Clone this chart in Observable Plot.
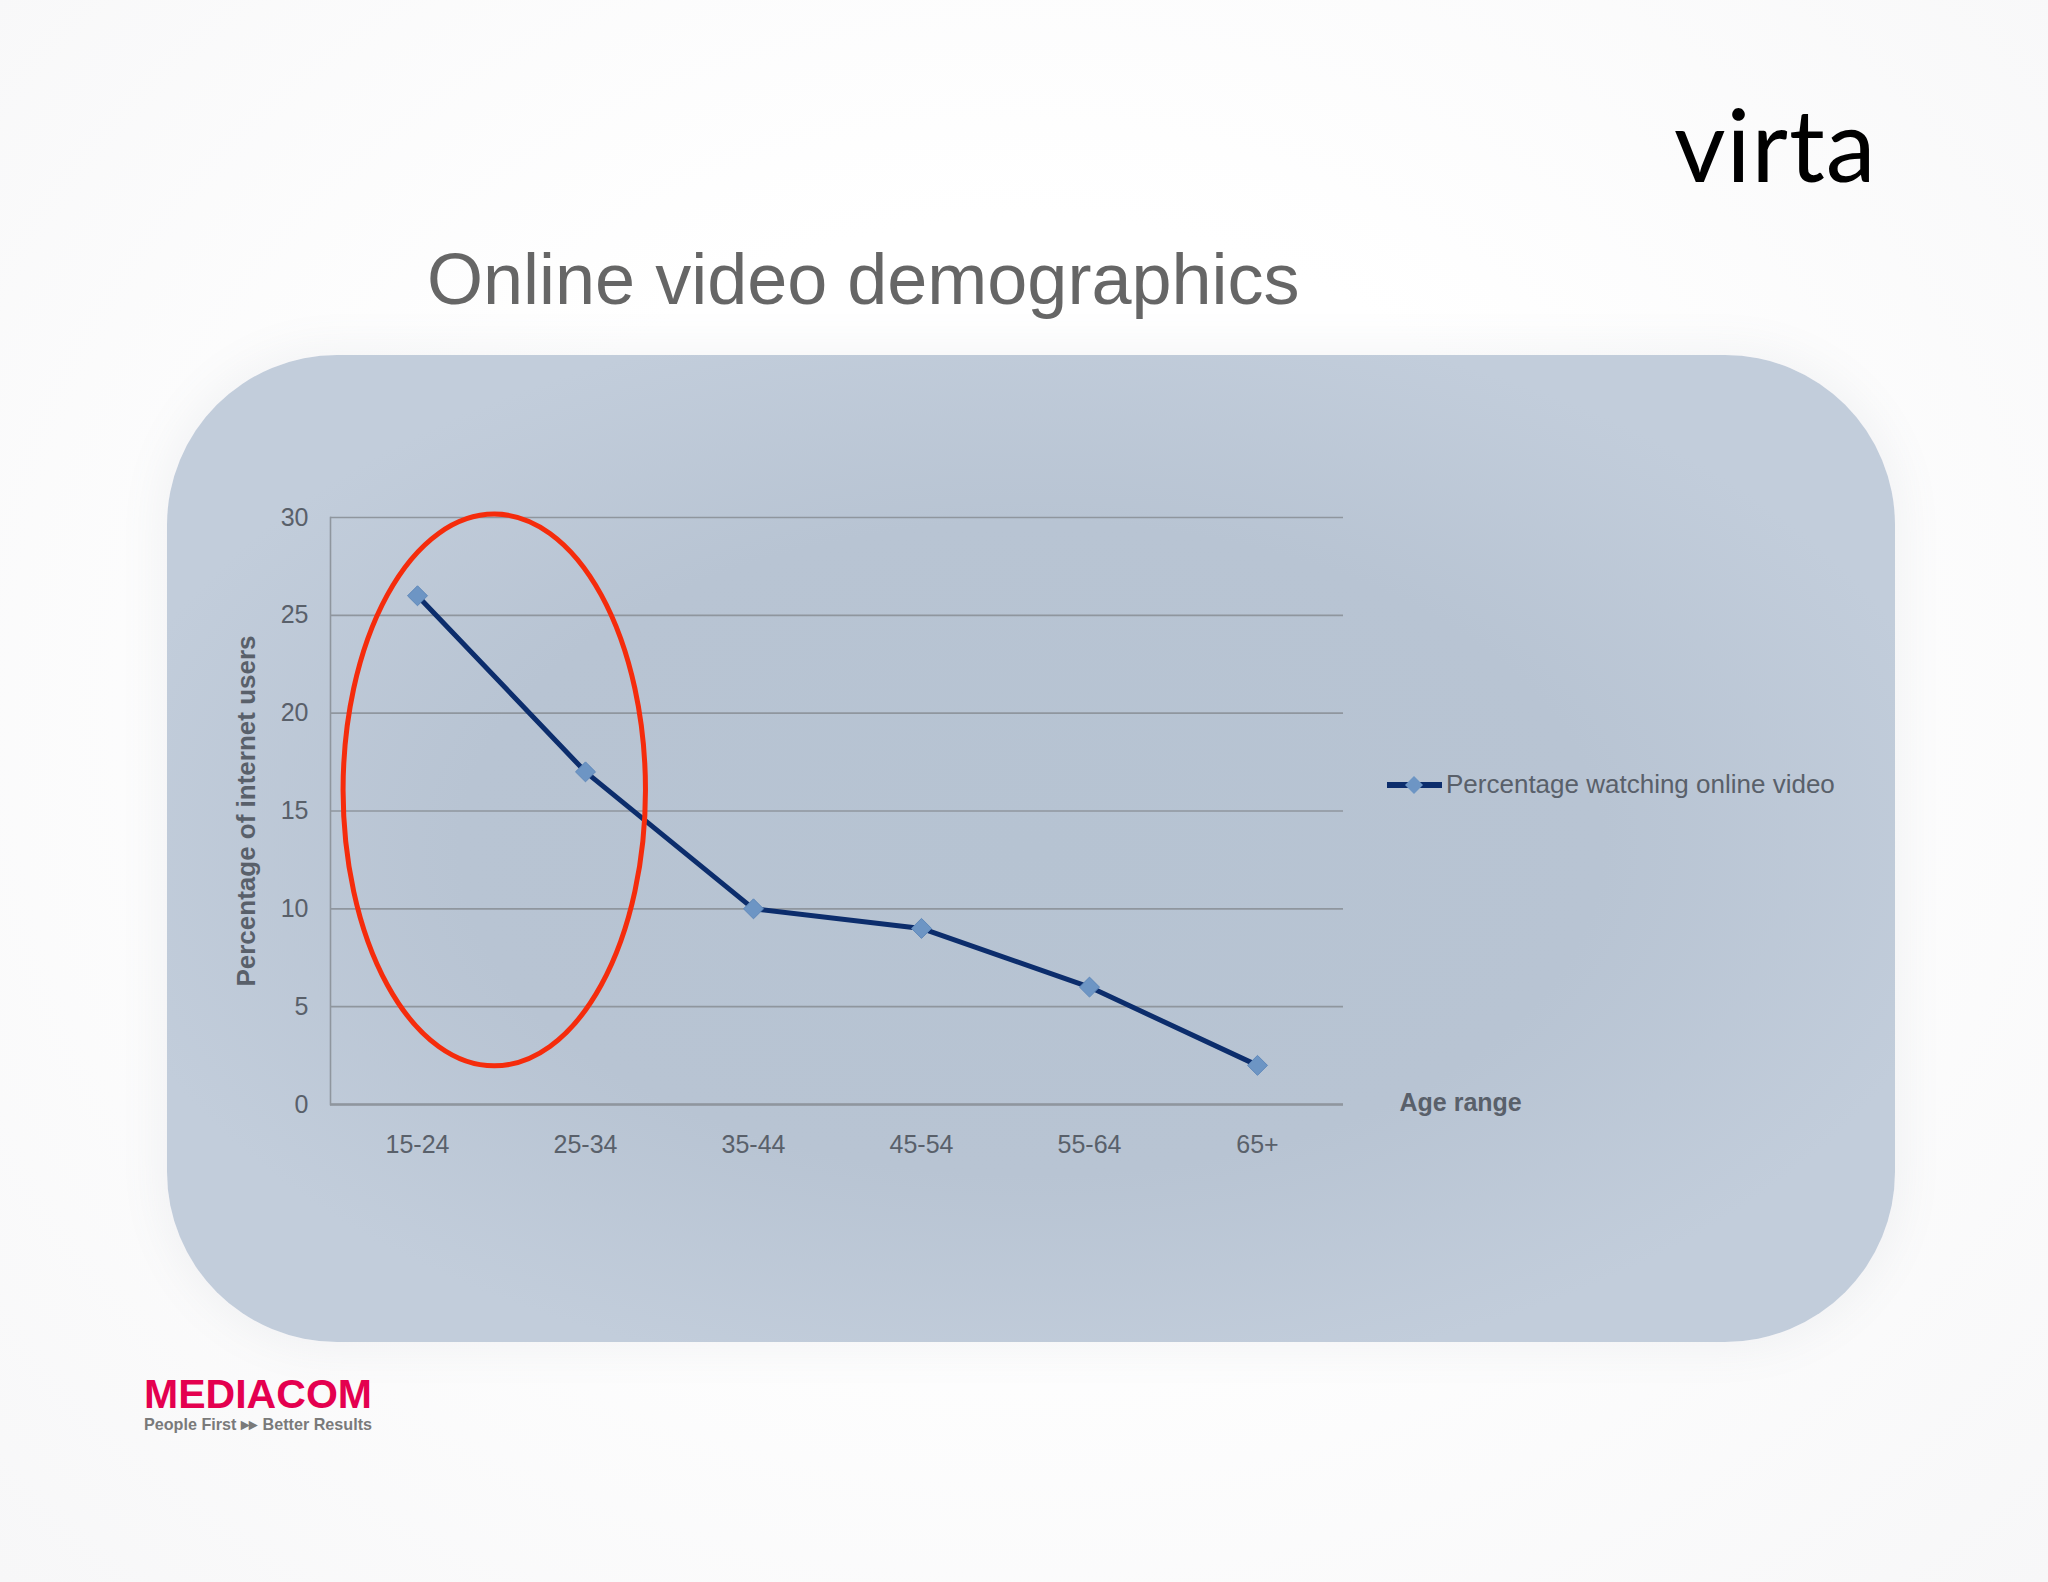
<!DOCTYPE html>
<html>
<head>
<meta charset="utf-8">
<script src="https://cdn.jsdelivr.net/npm/d3@7"></script>
<script src="https://cdn.jsdelivr.net/npm/@observablehq/plot@0.6"></script>
<style>
  html, body { margin: 0; padding: 0; }
  body { width: 2048px; height: 1582px; overflow: hidden;
    background: radial-gradient(ellipse at 50% 45%, #ffffff 40%, #f7f7f8 100%);
    font-family: "Liberation Sans", Arial, sans-serif; }
  #page { position: relative; width: 2048px; height: 1582px; }
  #panel { position: absolute; left: 167px; top: 355px; width: 1728px; height: 987px;
    border-radius: 170px;
    background: radial-gradient(ellipse 55% 55% at 50% 50%, #b6c3d2 0%, #b8c4d3 60%, #c2cddb 100%);
    box-shadow: 0 0 40px 10px rgba(120,130,145,0.07); }
  #title { position: absolute; left: 427px; top: 243px; font-size: 72px; color: #666666;
    font-family: "Liberation Sans", Arial, sans-serif; white-space: nowrap; line-height: 1; }
  #virta { position: absolute; left: 1674px; top: 93px; font-size: 100px; color: #000;
    font-family: Lato, "Open Sans", sans-serif; letter-spacing: 1px; line-height: 1; }
  #chart { position: absolute; left: 0; top: 0; }
  #legend { position: absolute; left: 1386px; top: 769px; display: flex; align-items: center;
    font-size: 26px; color: #59606a; white-space: nowrap; }
  #mediacom { position: absolute; left: 142px; top: 1372px; overflow: visible; }
</style>
</head>
<body>
<div id="page">
  <div id="panel"></div>
  <div id="title">Online video demographics</div>
  <div id="virta">virta</div>
  <div id="chart"></div>
  <div id="legend"></div>
  <svg id="mediacom" width="270" height="90">
    <text x="2" y="36" font-family="Liberation Sans, Arial, sans-serif" font-weight="bold" font-size="41" fill="#e4004f" textLength="228" lengthAdjust="spacingAndGlyphs">MEDIACOM</text>
    <text x="2" y="58" font-family="Liberation Sans, Arial, sans-serif" font-weight="bold" font-size="17" fill="#7a7a7a" textLength="228" lengthAdjust="spacingAndGlyphs">People First ▸▸ Better Results</text>
  </svg>
</div>
<script>
// ---- data ----
const ageRanges = ["15-24", "25-34", "35-44", "45-54", "55-64", "65+"];
const pctWatching = [26, 17, 10, 9, 6, 2];
const yTicks = [0, 5, 10, 15, 20, 25, 30];
const seriesName = "Percentage watching online video";
const yLabel = "Percentage of internet users";
const xLabel = "Age range";
// highlight ellipse annotation (in data units)
const highlightCats = ["15-24", "25-34"];
const highlightYCenter = 16.05;
const highlightYHalf = 14.1;
const highlightXHalfSteps = 0.9;
const highlightXShiftSteps = -0.04;

const data = ageRanges.map((a, i) => ({age: a, pct: pctWatching[i]}));

const W = 2048, H = 1582;
const mL = 330, mR = W - 1343, mT = 517, mB = H - 1104;
const tickColor = "#59606a";

const plot = Plot.plot({
  width: W, height: H,
  marginLeft: mL, marginRight: mR, marginTop: mT, marginBottom: mB,
  style: {background: "transparent", fontFamily: "Liberation Sans, Arial, sans-serif", fontSize: "25px", color: tickColor},
  x: {type: "point", domain: ageRanges, padding: 0.5, label: null},
  y: {domain: [0, 30], ticks: yTicks, label: null},
  marks: [
    Plot.gridY(yTicks, {stroke: "#8f969e", strokeOpacity: 1, strokeWidth: 1.6}),
    Plot.ruleY([0], {stroke: "#8f969e", strokeWidth: 2.5}),
    Plot.frame({anchor: "left", stroke: "#8f969e", strokeWidth: 1.6}),
    Plot.axisY(yTicks, {tickSize: 0, tickPadding: 22, fill: tickColor, fontSize: 25, label: null}),
    Plot.axisX({tickSize: 0, tickPadding: 31, fill: tickColor, fontSize: 25, label: null}),
    Plot.line(data, {x: "age", y: "pct", stroke: "#0c2d6c", strokeWidth: 5}),
    Plot.dot(data, {x: "age", y: "pct", symbol: "diamond2", r: 9, fill: "#6d95c4", stroke: "#5f88ba", strokeWidth: 1}),
    Plot.text([yLabel], {frameAnchor: "left", textAnchor: "middle", rotate: -90, dx: -84, text: d => d, fontSize: 26, fontWeight: "bold", fill: tickColor}),
    Plot.text([xLabel], {frameAnchor: "bottom-right", textAnchor: "start", dx: 56, dy: 6, text: d => d, fontSize: 25, fontWeight: "bold", fill: tickColor})
  ]
});
document.getElementById("chart").appendChild(plot);

// highlight ellipse using the plot's own scales
const xs = plot.scale("x"), ys = plot.scale("y");
const step = xs.apply(highlightCats[1]) - xs.apply(highlightCats[0]);
const cx = (xs.apply(highlightCats[0]) + xs.apply(highlightCats[1])) / 2 + highlightXShiftSteps * step;
const cy = ys.apply(highlightYCenter);
const ry = Math.abs(ys.apply(highlightYCenter + highlightYHalf) - cy);
const rx = highlightXHalfSteps * step;
const ns = "http://www.w3.org/2000/svg";
const ell = document.createElementNS(ns, "ellipse");
ell.setAttribute("cx", cx); ell.setAttribute("cy", cy);
ell.setAttribute("rx", rx); ell.setAttribute("ry", ry);
ell.setAttribute("fill", "none"); ell.setAttribute("stroke", "#f52c0c"); ell.setAttribute("stroke-width", 5);
plot.appendChild(ell);

// legend
const lg = document.getElementById("legend");
lg.innerHTML = `<svg width="58" height="30" style="margin-right:2px"><line x1="1" x2="56" y1="15" y2="15" stroke="#0c2d6c" stroke-width="6"/><path d="M28,6 L37,15 L28,24 L19,15 Z" fill="#6d95c4"/></svg><span>${seriesName}</span>`;
</script>
</body>
</html>
